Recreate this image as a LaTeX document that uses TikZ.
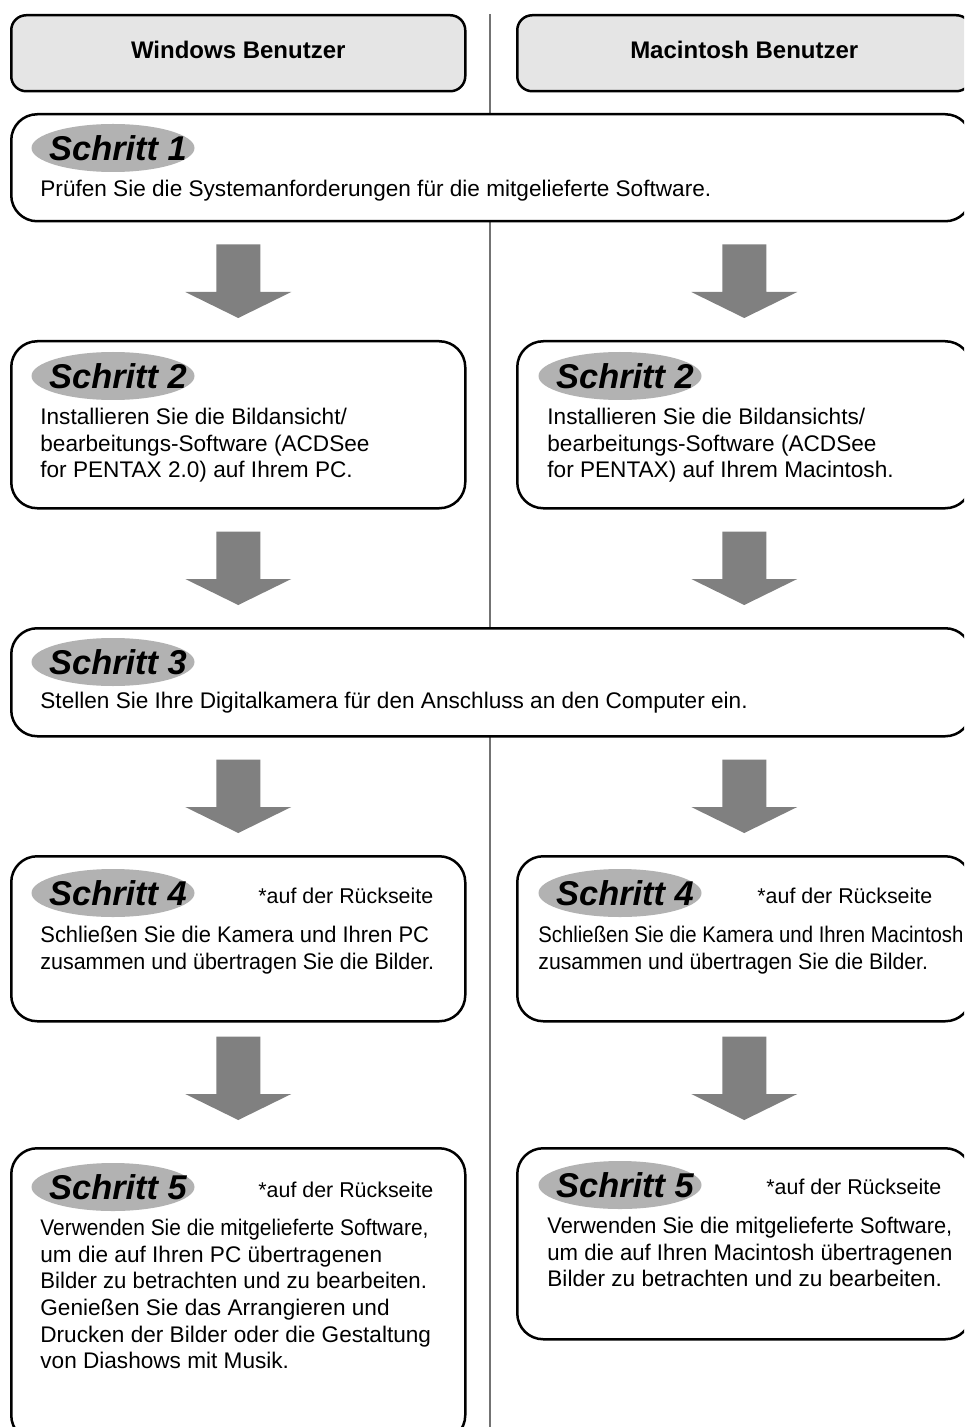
\documentclass[tikz,border=0pt]{standalone}
\usepackage{graphicx}
\usepackage{fontspec}
\setmainfont{Liberation Sans}
\usetikzlibrary{calc,shapes.geometric}

\definecolor{headgray}{gray}{0.9}
\definecolor{badgegray}{gray}{0.7}
\definecolor{arrowgray}{gray}{0.5}
\definecolor{linegray}{gray}{0.45}

\tikzset{
	headbox/.style={draw, line width=1.25pt, fill=headgray, rounded corners=7.5pt,
		minimum width=227pt, minimum height=38pt, anchor=north west,
		text height=8.6pt, text depth=3.6pt,
		font=\bfseries\fontsize{12}{14}\selectfont},
	stepbox/.style={draw, line width=1.25pt, fill=white, rounded corners=13pt,
		anchor=north west, inner sep=0pt},
	badge/.style={ellipse, fill=badgegray, minimum width=81.5pt, minimum height=24pt,
		inner sep=0pt, font=\bfseries\itshape\fontsize{17.2}{19}\selectfont},
	bodytext/.style={anchor=north west, align=left, inner sep=0pt,
		font=\fontsize{11.3}{13.3}\selectfont},
	hinttext/.style={anchor=base west, inner sep=0pt, font=\fontsize{10.7}{13.3}\selectfont},
}

% badge label, kept out of the ellipse size
\newcommand{\stepname}[1]{\makebox[0pt]{\hspace*{5pt}Schritt #1}}
% narrower line
\newcommand{\squeeze}[2]{\scalebox{#1}[1]{#2}}

% block arrow from box #2 down to box #3, in the column of node #4
% #1 = top gap/tip gap
\newcommand{\stepArrow}[4][22/22]{%
	\foreach \tg/\bg in {#1} {
		\fill[arrowgray] ($(#2.south -| #4)+(-22,\tg)$) -- ($(#2.south -| #4)+(22,\tg)$)
			-- ($(#3.north -| #4)+(22,-\bg-26)$) -- ($(#3.north -| #4)+(53,-\bg-26)$)
			-- ($(#3.north -| #4)+(0,-\bg)$)
			-- ($(#3.north -| #4)+(-53,-\bg-26)$) -- ($(#3.north -| #4)+(-22,-\bg-26)$) -- cycle;
	}
}

\begin{document}
\begin{tikzpicture}[x=0.5pt, y=-0.5pt]

% frame %{{{2

	\useasboundingbox (0,0) rectangle (964,1427);
	\clip (0,0) rectangle (964,1427);

% divider %{{{2

	\draw[linegray, line width=0.75pt] (490,14) -- (490,1427);

% headers %{{{2

	\node[headbox] (hwin) at (10,14) {Windows Benutzer};
	\node[headbox] (hmac) at (516,14) {Macintosh Benutzer};

% boxes %{{{2

	\node[stepbox, minimum width=480pt, minimum height=53.5pt] (s1) at (10,113) {};

	\node[stepbox, minimum width=227pt, minimum height=83.5pt] (s2l) at (10,340) {};
	\node[stepbox, minimum width=227pt, minimum height=83.5pt] (s2r) at (516,340) {};

	\node[stepbox, minimum width=480pt, minimum height=54pt] (s3) at (10,627) {};

	\node[stepbox, minimum width=227pt, minimum height=82.5pt] (s4l) at (10,855) {};
	\node[stepbox, minimum width=227pt, minimum height=82.5pt] (s4r) at (516,855) {};

	\node[stepbox, minimum width=227pt, minimum height=146.5pt] (s5l) at (10,1147) {};
	\node[stepbox, minimum width=227pt, minimum height=95.5pt] (s5r) at (516,1147) {};

% arrows %{{{2

	\stepArrow{s1}{s2l}{hwin}
	\stepArrow{s1}{s2r}{hmac}
	\stepArrow{s2l}{s3}{hwin}
	\stepArrow{s2r}{s3}{hmac}
	\stepArrow{s3}{s4l}{hwin}
	\stepArrow{s3}{s4r}{hmac}
	\stepArrow[14/27]{s4l}{s5l}{hwin}
	\stepArrow[14/27]{s4r}{s5r}{hmac}

% badges %{{{2

	\node[badge] (b1) at (113,148) {\stepname{1}};
	\node[badge] (b2l) at (113,376) {\stepname{2}};
	\node[badge] (b2r) at (620,376) {\stepname{2}};
	\node[badge] (b3) at (113,662) {\stepname{3}};
	\node[badge] (b4l) at (113,893) {\stepname{4}};
	\node[badge] (b4r) at (620,893) {\stepname{4}};
	\node[badge] (b5l) at (113,1187) {\stepname{5}};
	\node[badge] (b5r) at (620,1185) {\stepname{5}};

% hints %{{{2

	\node[hinttext] (n4l) at (258,903) {*auf der Rückseite};
	\node[hinttext] (n4r) at (757,903) {*auf der Rückseite};
	\node[hinttext] (n5l) at (258,1197) {*auf der Rückseite};
	\node[hinttext] (n5r) at (766,1194) {*auf der Rückseite};

% texts %{{{2

	\node[bodytext] (t1) at (40,180)
		{Prüfen Sie die Systemanforderungen für die mitgelieferte Software.};

	\node[bodytext] (t2l) at (40,408)
		{Installieren Sie die Bildansicht/\\bearbeitungs-Software (ACDSee\\for PENTAX 2.0) auf Ihrem PC.};
	\node[bodytext] (t2r) at (547,408)
		{Installieren Sie die Bildansichts/\\bearbeitungs-Software (ACDSee\\for PENTAX) auf Ihrem Macintosh.};

	\node[bodytext] (t3) at (40,692)
		{Stellen Sie Ihre Digitalkamera für den Anschluss an den Computer ein.};

	\node[bodytext] (t4l) at (40,926)
		{\squeeze{0.97}{Schließen Sie die Kamera und Ihren PC}\\
		 \squeeze{0.95}{zusammen und übertragen Sie die Bilder.}};
	\node[bodytext] (t4r) at (538,926)
		{\squeeze{0.9}{Schließen Sie die Kamera und Ihren Macintosh}\\
		 \squeeze{0.94}{zusammen und übertragen Sie die Bilder.}};

	\node[bodytext] (t5l) at (40,1219)
		{\squeeze{0.925}{Verwenden Sie die mitgelieferte Software,}\\um die auf Ihren PC übertragenen\\
		 \squeeze{0.98}{Bilder zu betrachten und zu bearbeiten.}\\Genießen Sie das Arrangieren und\\
		 Drucken der Bilder oder die Gestaltung\\von Diashows mit Musik.};
	\node[bodytext] (t5r) at (547,1217)
		{\squeeze{0.965}{Verwenden Sie die mitgelieferte Software,}\\
		 \squeeze{0.98}{um die auf Ihren Macintosh übertragenen}\\Bilder zu betrachten und zu bearbeiten.};

\end{tikzpicture}
\end{document}
